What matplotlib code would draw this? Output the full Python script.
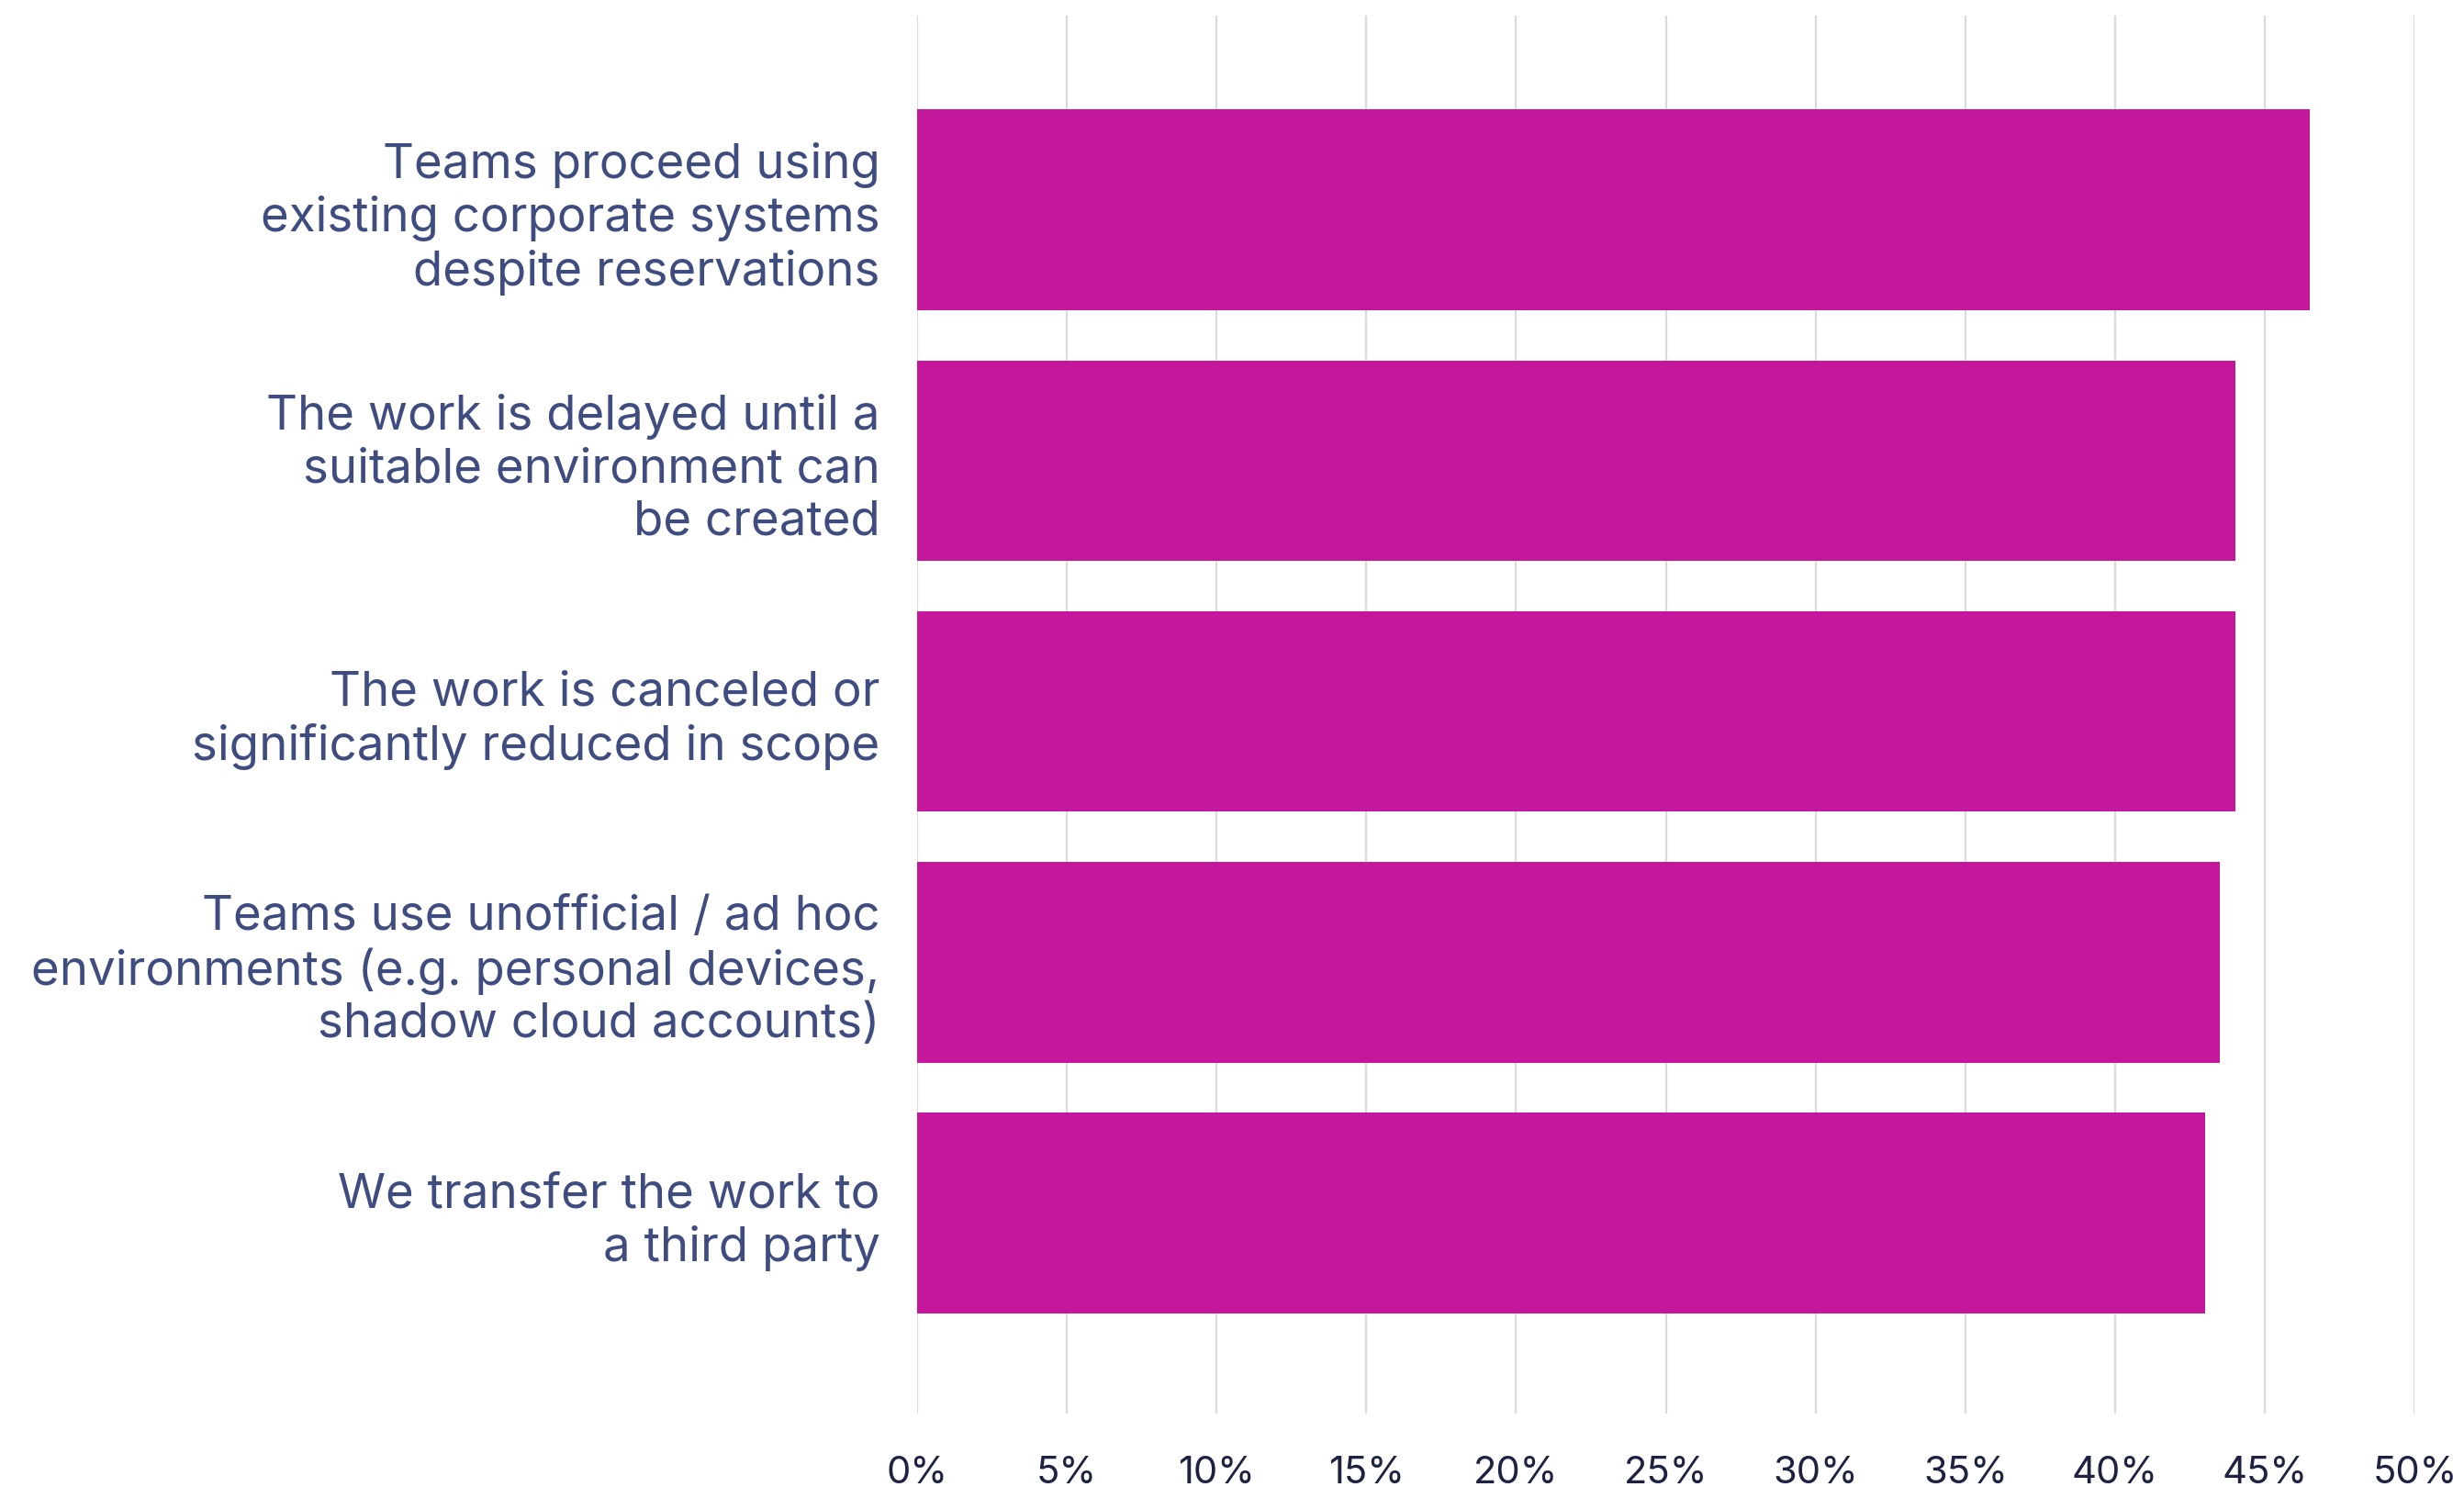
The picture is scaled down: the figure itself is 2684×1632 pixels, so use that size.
"""
Horizontal bar chart: what happens when no suitable environment is available.

Output:
    out.png
"""

from __future__ import annotations

import matplotlib.pyplot as plt
from matplotlib.ticker import FuncFormatter, MultipleLocator


CATEGORIES = [
    "Teams proceed using\nexisting corporate systems\ndespite reservations",
    "The work is delayed until a\nsuitable environment can\nbe created",
    "The work is canceled or\nsignificantly reduced in scope",
    "Teams use unofficial / ad hoc\nenvironments (e.g. personal devices,\nshadow cloud accounts)",
    "We transfer the work to\na third party",
]
SHARES = [46.5, 44.0, 44.0, 43.5, 43.0]

BAR_COLOR = "#C5179B"
LABEL_COLOR = "#3F4C80"
TICK_COLOR = "#1E2140"
GRID_COLOR = "#DADADA"

plt.rcParams["font.family"] = ["Inter", "DejaVu Sans"]


def draw_chart() -> None:
    fig = plt.figure(figsize=(26.84, 16.32), dpi=100)
    ax = fig.add_axes([0.3721, 0.0564, 0.6079, 0.9332])

    positions = list(range(len(CATEGORIES)))
    ax.barh(positions, SHARES, height=0.8, color=BAR_COLOR, zorder=3)

    ax.set_xlim(0, 50)
    ax.set_ylim(4.8, -0.775)
    ax.xaxis.set_major_locator(MultipleLocator(5))
    ax.xaxis.set_major_formatter(FuncFormatter(lambda v, _: f"{v:.0f}%"))
    ax.grid(axis="x", color=GRID_COLOR, linewidth=1.6, zorder=0)

    ax.set_yticks(positions)
    ax.set_yticklabels(CATEGORIES, fontsize=38, color=LABEL_COLOR,
                       linespacing=1.22)
    ax.tick_params(axis="y", length=0, pad=29)
    ax.tick_params(axis="x", length=0, pad=33, labelsize=30,
                   labelcolor=TICK_COLOR)

    for spine in ax.spines.values():
        spine.set_visible(False)

    fig.savefig("out.png", dpi=100, facecolor="white")
    plt.close(fig)


if __name__ == "__main__":
    draw_chart()
